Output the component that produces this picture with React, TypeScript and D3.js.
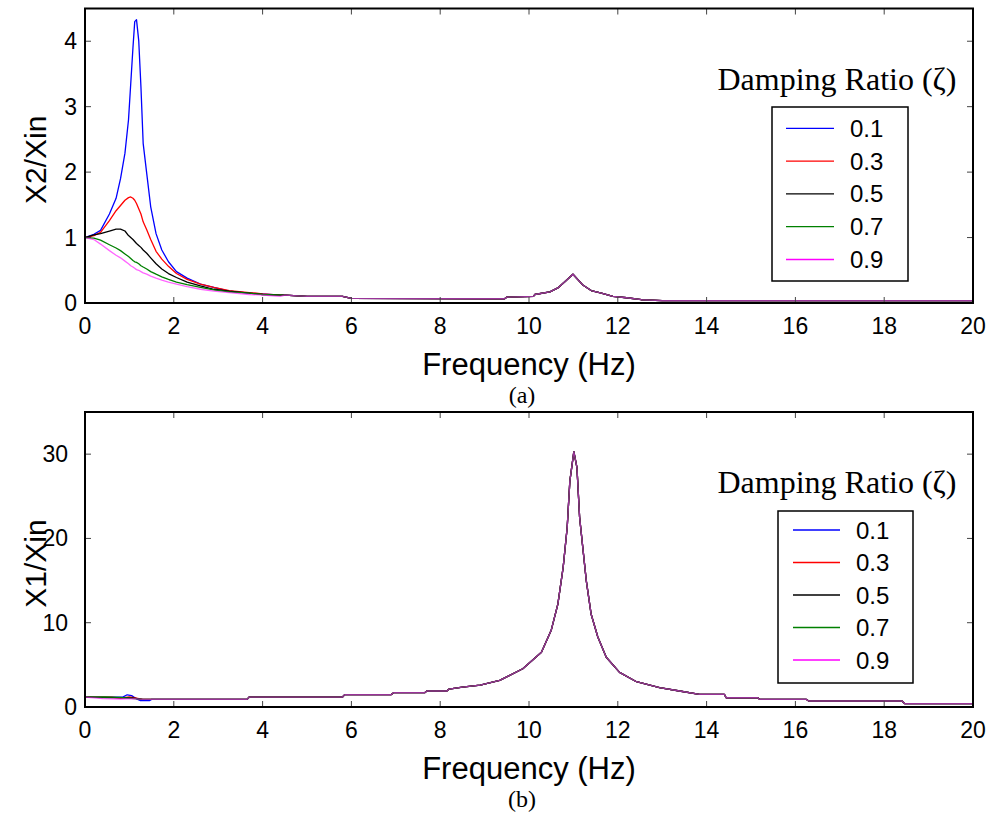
import React from "react";
import * as d3 from "d3";

// ---------- DATA ----------
const dampingRatios = ["0.1", "0.3", "0.5", "0.7", "0.9"];
const seriesColors = ["#0000ff", "#ff0000", "#000000", "#008000", "#ff00ff"];

const xTicks = [0, 2, 4, 6, 8, 10, 12, 14, 16, 18, 20];
const yTicksA = [0, 1, 2, 3, 4];
const yTicksB = [0, 10, 20, 30];

// (a) X2/Xin : low-frequency part, common frequency grid
const freqLowA = [0, 0.2, 0.35, 0.55, 0.7, 0.8, 0.9, 0.98, 1.03, 1.08, 1.12, 1.16, 1.21, 1.26, 1.31, 1.39, 1.48, 1.6, 1.73, 1.88, 2.06, 2.3, 2.6, 2.9, 3.25, 3.7, 4.0, 4.4];
const x2Zeta01 = [1.0, 1.05, 1.11, 1.36, 1.6, 1.9, 2.29, 2.8, 3.35, 3.9, 4.3, 4.33, 4.01, 3.3, 2.44, 1.98, 1.47, 1.06, 0.81, 0.63, 0.48, 0.38, 0.29, 0.24, 0.18, 0.15, 0.14, 0.12];
const x2Zeta03 = [1.0, 1.03, 1.08, 1.26, 1.41, 1.49, 1.57, 1.61, 1.62, 1.6, 1.57, 1.52, 1.44, 1.36, 1.24, 1.12, 0.97, 0.79, 0.67, 0.56, 0.45, 0.36, 0.29, 0.24, 0.19, 0.16, 0.14, 0.12];
const x2Zeta05 = [1.0, 1.04, 1.06, 1.1, 1.13, 1.13, 1.1, 1.03, 1.0, 0.97, 0.94, 0.91, 0.88, 0.85, 0.81, 0.76, 0.69, 0.6, 0.52, 0.45, 0.39, 0.32, 0.26, 0.21, 0.18, 0.15, 0.13, 0.12];
const x2Zeta07 = [1.0, 0.99, 0.96, 0.89, 0.84, 0.8, 0.75, 0.71, 0.68, 0.65, 0.63, 0.62, 0.6, 0.57, 0.55, 0.52, 0.48, 0.44, 0.4, 0.36, 0.32, 0.28, 0.24, 0.2, 0.17, 0.15, 0.13, 0.12];
const x2Zeta09 = [1.0, 0.97, 0.9, 0.8, 0.73, 0.69, 0.64, 0.6, 0.57, 0.55, 0.53, 0.51, 0.5, 0.48, 0.46, 0.44, 0.41, 0.38, 0.35, 0.32, 0.29, 0.25, 0.21, 0.18, 0.16, 0.13, 0.12, 0.1];
// (a) common high-frequency tail
const freqTailA = [4.5, 5.0, 5.8, 6.0, 9.45, 9.5, 10.1, 10.13, 10.47, 10.65, 10.8, 10.99, 11.22, 11.4, 11.63, 11.89, 12.2, 12.53, 13.0, 20];
const x2Tail = [0.12, 0.1, 0.1, 0.07, 0.065, 0.09, 0.1, 0.13, 0.17, 0.23, 0.32, 0.44, 0.27, 0.19, 0.15, 0.1, 0.08, 0.05, 0.035, 0.035];

// (b) X1/Xin : low-frequency part per series
const freqLowB01 = [0, 0.85, 0.95, 1.05, 1.15, 1.25, 1.45, 1.5];
const x1Zeta01 = [1.18, 1.18, 1.45, 1.35, 1.0, 0.75, 0.75, 0.9];
const freqLowB03 = [0, 0.6, 0.8, 1.0, 1.1, 1.3, 1.5];
const x1Zeta03 = [1.18, 1.18, 1.05, 1.2, 1.1, 0.9, 0.9];
const freqLowB05 = [0, 0.5, 0.9, 1.1, 1.3, 1.5];
const x1Zeta05 = [1.18, 1.12, 1.1, 1.05, 0.9, 0.9];
const freqLowB07 = [0, 0.45, 0.8, 1.1, 1.3, 1.5];
const x1Zeta07 = [1.18, 1.2, 1.15, 1.0, 0.9, 0.9];
const freqLowB09 = [0, 0.4, 0.8, 1.1, 1.3, 1.5];
const x1Zeta09 = [1.18, 1.0, 0.95, 1.0, 0.9, 0.9];
// (b) common tail
const freqTailB = [1.6, 3.65, 3.7, 5.8, 5.85, 6.9, 6.95, 7.65, 7.7, 8.15, 8.2, 8.5, 8.9, 9.34, 9.86, 10.28, 10.5, 10.65, 10.77, 10.86, 10.92, 11.01, 11.08, 11.14, 11.22, 11.29, 11.4, 11.55, 11.74, 12.04, 12.42, 12.94, 13.39, 13.84, 14.4, 14.44, 15.15, 15.2, 16.25, 16.3, 18.4, 18.46, 20];
const x1Tail = [0.9, 0.9, 1.18, 1.18, 1.47, 1.47, 1.7, 1.7, 1.9, 1.9, 2.13, 2.37, 2.6, 3.16, 4.54, 6.5, 9.1, 12.2, 16.6, 21.3, 26.8, 30.3, 28.4, 22.5, 18.5, 15.0, 11.0, 8.3, 5.9, 4.1, 3.0, 2.3, 1.9, 1.5, 1.5, 1.1, 1.1, 0.9, 0.9, 0.71, 0.71, 0.4, 0.4];

type Pt = [number, number];
const zip = (xs: number[], ys: number[]): Pt[] => xs.map((x, i) => [x, ys[i]] as Pt);

const seriesA: Pt[][] = [x2Zeta01, x2Zeta03, x2Zeta05, x2Zeta07, x2Zeta09].map((ys) =>
  zip(freqLowA, ys).concat(zip(freqTailA, x2Tail))
);
const seriesB: Pt[][] = [
  zip(freqLowB01, x1Zeta01),
  zip(freqLowB03, x1Zeta03),
  zip(freqLowB05, x1Zeta05),
  zip(freqLowB07, x1Zeta07),
  zip(freqLowB09, x1Zeta09),
].map((low) => low.concat(zip(freqTailB, x1Tail)));

// ---------- LAYOUT ----------
const SANS = "'Liberation Sans', Arial, sans-serif";
const SERIF = "'Liberation Serif', 'Times New Roman', serif";
const LEFT = 85;
const RIGHT = 973;

interface PanelProps {
  top: number;
  bottom: number;
  yMax: number;
  yTicks: number[];
  ylabel: string;
  caption: string;
  series: Pt[][];
  legendTitleY: number;
  legendBox: { x: number; y: number; w: number; h: number };
  lineX1: number;
  lineX2: number;
  textX: number;
  rowY0: number;
  rowStep: number;
  yTickEnd: (v: number) => number;
}

function Panel(p: PanelProps) {
  const x = d3.scaleLinear().domain([0, 20]).range([LEFT, RIGHT]);
  const y = d3.scaleLinear().domain([0, p.yMax]).range([p.bottom, p.top]);
  const line = d3
    .line<Pt>()
    .x((d) => x(d[0]))
    .y((d) => y(d[1]));
  const tickLen = 6;
  const midY = (p.top + p.bottom) / 2;
  return (
    <g>
      {p.series.map((s, i) => (
        <path
          key={i}
          d={line(s) || ""}
          fill="none"
          stroke={seriesColors[i]}
          strokeWidth={1.3}
          strokeOpacity={i === 4 ? 0.6 : 1}
          strokeLinejoin="round"
        />
      ))}
      {/* ticks */}
      {xTicks.map((t) => (
        <g key={"xt" + t} stroke="#444" strokeWidth={1}>
          <line x1={x(t)} x2={x(t)} y1={p.bottom} y2={p.bottom - tickLen} />
          <line x1={x(t)} x2={x(t)} y1={p.top} y2={p.top + tickLen} />
        </g>
      ))}
      {p.yTicks.map((t) => (
        <g key={"yt" + t} stroke="#444" strokeWidth={1}>
          <line x1={LEFT} x2={LEFT + tickLen} y1={y(t)} y2={y(t)} />
          <line x1={RIGHT} x2={RIGHT - tickLen} y1={y(t)} y2={y(t)} />
        </g>
      ))}
      <rect
        x={LEFT}
        y={p.top}
        width={RIGHT - LEFT}
        height={p.bottom - p.top}
        fill="none"
        stroke="#000"
        strokeWidth={2}
      />
      {/* tick labels */}
      {xTicks.map((t) => (
        <text
          key={"xl" + t}
          x={x(t)}
          y={p.bottom + 31}
          textAnchor="middle"
          fontFamily={SANS}
          fontSize={23}
        >
          {t}
        </text>
      ))}
      {p.yTicks.map((t) => (
        <text
          key={"yl" + t}
          x={p.yTickEnd(t)}
          y={y(t) + 8}
          textAnchor="end"
          fontFamily={SANS}
          fontSize={23}
        >
          {t}
        </text>
      ))}
      {/* axis labels */}
      <text
        transform={`translate(${46},${midY + 4}) rotate(-90)`}
        textAnchor="middle"
        fontFamily={SANS}
        fontSize={30}
      >
        {p.ylabel}
      </text>
      <text x={529} y={p.bottom + 72} textAnchor="middle" fontFamily={SANS} fontSize={31}>
        Frequency (Hz)
      </text>
      <text x={522} y={p.bottom + 100} textAnchor="middle" fontFamily={SERIF} fontSize={24}>
        {p.caption}
      </text>
      {/* legend */}
      <text x={837} y={p.legendTitleY} textAnchor="middle" fontFamily={SERIF} fontSize={32}>
        Damping Ratio (ζ)
      </text>
      <rect
        x={p.legendBox.x}
        y={p.legendBox.y}
        width={p.legendBox.w}
        height={p.legendBox.h}
        fill="#fff"
        stroke="#000"
        strokeWidth={1.5}
      />
      {dampingRatios.map((r, i) => {
        const ry = p.rowY0 + i * p.rowStep;
        return (
          <g key={"lg" + r}>
            <line x1={p.lineX1} x2={p.lineX2} y1={ry} y2={ry} stroke={seriesColors[i]} strokeWidth={1.3} />
            <text x={p.textX} y={ry + 8.5} fontFamily={SANS} fontSize={24}>
              {r}
            </text>
          </g>
        );
      })}
    </g>
  );
}

export default function App() {
  return (
    <svg width={992} height={813} style={{ display: "block", position: "absolute", left: 0, top: 0 }}>
      <rect width={992} height={813} fill="#fff" />
      <Panel
        top={8.5}
        bottom={303}
        yMax={4.5}
        yTicks={yTicksA}
        ylabel="X2/Xin"
        caption="(a)"
        series={seriesA}
        legendTitleY={90}
        legendBox={{ x: 772, y: 107, w: 136, h: 174 }}
        lineX1={786}
        lineX2={834}
        textX={850}
        rowY0={128.3}
        rowStep={32.8}
        yTickEnd={() => 77}
      />
      <Panel
        top={412}
        bottom={707}
        yMax={35}
        yTicks={yTicksB}
        ylabel="X1/Xin"
        caption="(b)"
        series={seriesB}
        legendTitleY={493}
        legendBox={{ x: 778, y: 511, w: 135, h: 172 }}
        lineX1={793}
        lineX2={840}
        textX={856}
        rowY0={530}
        rowStep={32.5}
        yTickEnd={(v) => (v === 0 ? 77 : 68)}
      />
    </svg>
  );
}
